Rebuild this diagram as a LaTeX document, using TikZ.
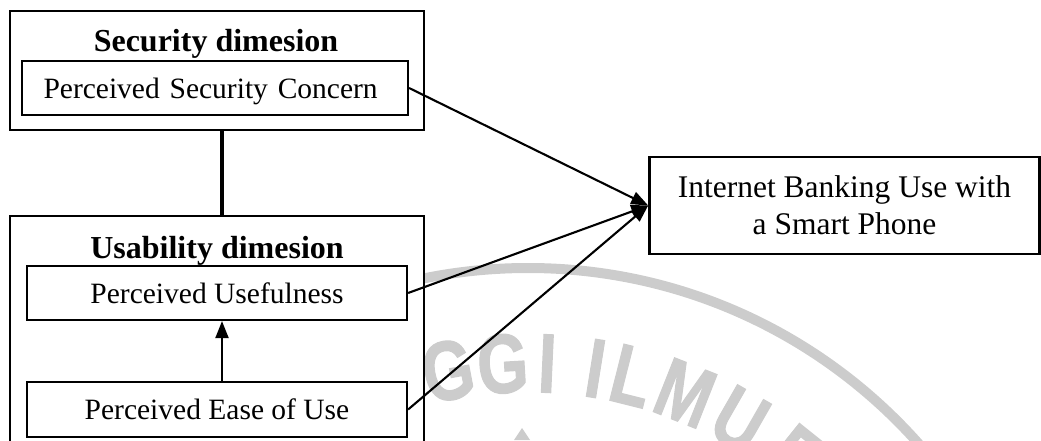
\documentclass[tikz,border=0pt]{standalone}
\usepackage{fontspec}
\setmainfont{Liberation Serif}
\newfontfamily\wmfont{Liberation Sans}[BoldFeatures={FakeBold=1.5}]
\usetikzlibrary{arrows.meta}
\definecolor{wmgray}{RGB}{204,204,204}
\begin{document}
\begin{tikzpicture}[x=1pt,y=1pt,
  outer/.style={draw, line width=2.6pt, fill=white, inner sep=0pt},
  inner/.style={draw, line width=2.2pt, fill=white, inner sep=0pt, font=\fontsize{29.5}{35}\selectfont},
  ttl/.style={font=\bfseries\fontsize{32}{38}\selectfont, inner sep=0pt, anchor=base},
  arr/.style={line width=2.1pt, -{Triangle[length=17pt,width=13pt]}},
  wmletter/.style={text=wmgray, font=\wmfont\bfseries\fontsize{84}{84}\selectfont, inner sep=0pt, anchor=base}]
\useasboundingbox (0,0) rectangle (1041,440);
\clip (0,0) rectangle (1041,440);
% watermark
\draw[wmgray, line width=10pt] (528,-350) circle (522);
\begin{scope}[shift={(528,-350)}]
\foreach \a/\l [count=\i] in {100.8/G, 93.4/G, 87.4/I, 80.9/I, 75.9/L, 68.4/M, 60.2/U, 51.3/E}
  \node[wmletter, rotate=\a-90, xscale=0.78] (wm\i) at (\a:398) {\l};
\end{scope}
\fill[wmgray] (514,0) -- (522,12) -- (530,0) -- cycle;
% boxes
\node[outer, minimum width=414pt, minimum height=119pt] (sec) at (217,369.5) {};
\node[ttl] (sect) at (216,388) {Security dimesion};
\node[inner, minimum width=386pt, minimum height=54pt, text width=343pt, align=left, inner xsep=21.5pt, text height=24pt, text depth=2pt] (psc) at (215,352) {Perceived Security Concern};
\node[outer, minimum width=414pt, minimum height=234pt] (usa) at (217,107) {};
\node[ttl] (usat) at (217,182) {Usability dimesion};
\node[inner, minimum width=380pt, minimum height=54pt, text height=22pt, text depth=2pt] (pu) at (217,147) {Perceived Usefulness};
\node[inner, minimum width=380pt, minimum height=55pt, text height=21pt, text depth=2pt] (peu) at (217,30.5) {Perceived Ease of Use};
\node[outer, minimum width=390pt, minimum height=97pt, align=center, font=\fontsize{31.5}{37}\selectfont] (tgt) at (844.5,234.5) {Internet Banking Use with\\a Smart Phone};
% connectors
\draw[line width=3.2pt] ([xshift=5pt]sec.south) -- ([xshift=5pt]usa.north);
\draw[arr] ([xshift=5pt]peu.north) -- ([xshift=5pt]pu.south);
\draw[arr] (psc.east) -- (tgt.west);
\draw[arr] (pu.east) -- (tgt.west);
\draw[arr] (peu.east) -- (tgt.west);
\end{tikzpicture}
\end{document}
